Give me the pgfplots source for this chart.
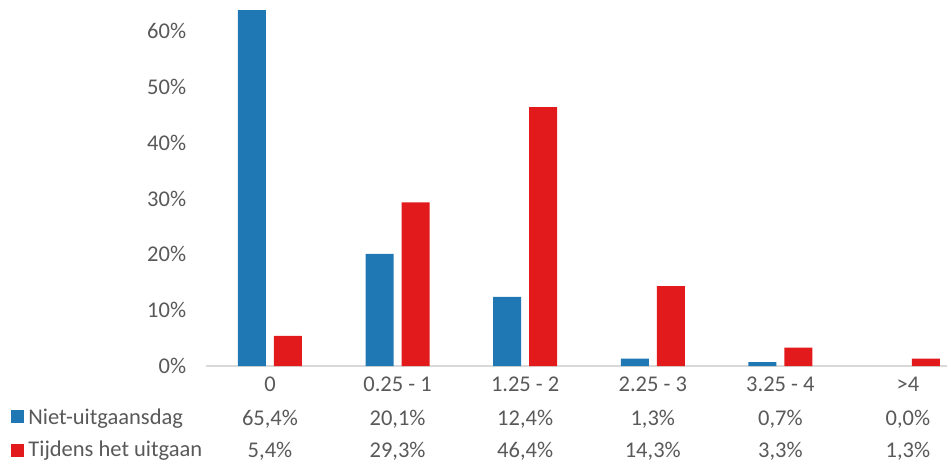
\documentclass[border=0pt]{standalone}
\usepackage{pgfplots}
\pgfplotsset{compat=1.18}
\usepackage{pgfplotstable}
\usepackage{fontspec}
\setmainfont{Carlito}
\definecolor{cblue}{RGB}{31,119,180}
\definecolor{cred}{RGB}{227,26,28}
\definecolor{txt}{RGB}{89,89,89}
\definecolor{axl}{RGB}{217,217,217}
\newcommand{\fs}{\fontsize{11.25}{13.5}\selectfont}
\pgfplotstableread{
x niet tijdens
0 0.654 0.054
1 0.201 0.293
2 0.124 0.464
3 0.013 0.143
4 0.007 0.033
5 0.000 0.013
}\data
\begin{document}
\begin{tikzpicture}
\path[use as bounding box] (0,0) rectangle (473.5pt,230.5pt);
\begin{axis}[
  at={(103.1pt,47.5pt)}, anchor=south west,
  scale only axis, width=370.4pt, height=177.75pt,
  xmin=-0.5, xmax=5.306, ymin=0, ymax=0.637,
  clip mode=individual,
  axis x line*=bottom, axis y line*=left,
  y axis line style={draw=none},
  x axis line style={draw=axl, line width=0.6pt},
  major tick length=0,
  xtick={0,1,2,3,4,5},
  xticklabels={0,0.25 - 1,1.25 - 2,2.25 - 3,3.25 - 4,>4},
  ytick={0,0.1,0.2,0.3,0.4,0.5,0.6},
  yticklabels={0\%,10\%,20\%,30\%,40\%,50\%,60\%},
  every tick label/.append style={font=\fs, text=txt},
  yticklabel style={anchor=east, xshift=-6.5pt},
  xticklabel style={anchor=base, yshift=-12.5pt},
  ybar, bar width=14pt,
]
\addplot[fill=cblue, draw=none, bar shift=-9pt, y filter/.expression={y==0 ? nan : y}] table[x=x,y=niet]{\data};
\addplot[fill=cred, draw=none, bar shift=9pt] table[x=x,y=tijdens]{\data};
\begin{scope}[every node/.style={font=\fs, text=txt, anchor=base}]
\node at (axis cs:0,0) [yshift=-29.5pt] {65,4\%};
\node at (axis cs:1,0) [yshift=-29.5pt] {20,1\%};
\node at (axis cs:2,0) [yshift=-29.5pt] {12,4\%};
\node at (axis cs:3,0) [yshift=-29.5pt] {1,3\%};
\node at (axis cs:4,0) [yshift=-29.5pt] {0,7\%};
\node at (axis cs:5,0) [yshift=-29.5pt] {0,0\%};
\node at (axis cs:0,0) [yshift=-45.75pt] {5,4\%};
\node at (axis cs:1,0) [yshift=-45.75pt] {29,3\%};
\node at (axis cs:2,0) [yshift=-45.75pt] {46,4\%};
\node at (axis cs:3,0) [yshift=-45.75pt] {14,3\%};
\node at (axis cs:4,0) [yshift=-45.75pt] {3,3\%};
\node at (axis cs:5,0) [yshift=-45.75pt] {1,3\%};
\end{scope}
\end{axis}
\fill[cblue] (5.5pt,19pt) rectangle (12pt,25.5pt);
\fill[cred] (5.5pt,2pt) rectangle (12pt,8.5pt);
\node[font=\fs, text=txt, anchor=base west, inner sep=0pt] at (14pt,18.5pt) {Niet-uitgaansdag};
\node[font=\fs, text=txt, anchor=base west, inner sep=0pt] at (14pt,2.5pt) {Tijdens het uitgaan};
\end{tikzpicture}
\end{document}
